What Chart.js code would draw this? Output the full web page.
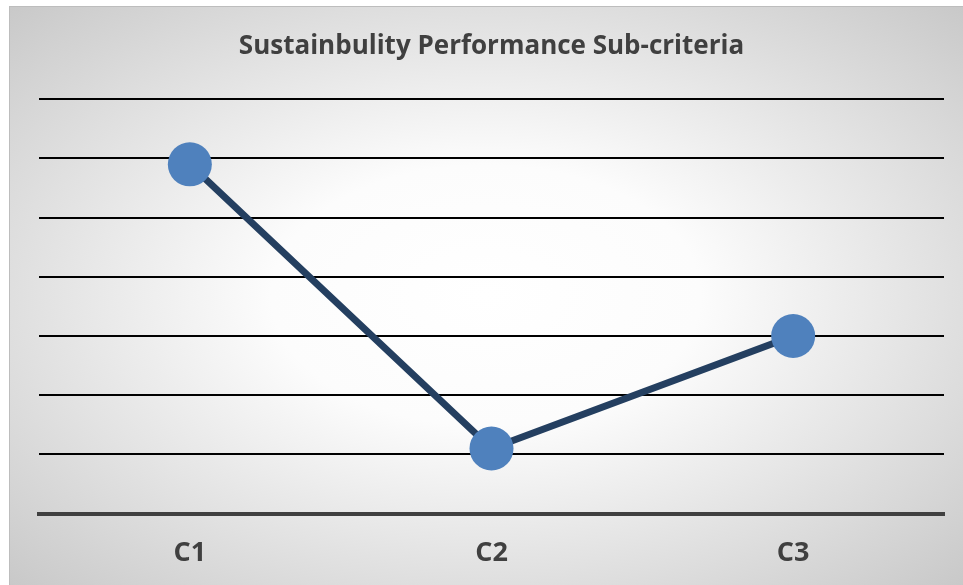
<!DOCTYPE html>
<html>
<head>
<meta charset="utf-8">
<script src="https://cdn.jsdelivr.net/npm/chart.js@4"></script>
<style>
  html, body { margin: 0; padding: 0; background: #fff; }
  #wrap { width: 963px; height: 585px; }
</style>
</head>
<body>
<div id="wrap"><canvas id="perfChart" width="963" height="585"></canvas></div>
<script>
// data
const categories = ["C1", "C2", "C3"];
const scores = [5.9, 1.1, 3.0];
const yMin = 0;
const yMax = 7;

// gray box with a white glow in the middle, like the Excel chart area
const backdrop = {
  id: "backdrop",
  beforeDraw(chart) {
    const ctx = chart.ctx;
    const x0 = 9, y0 = 6, w = chart.width - x0, h = chart.height - y0;
    const cx = x0 + w / 2, cy = y0 + h / 2;
    ctx.save();
    ctx.translate(cx, cy);
    ctx.scale(w / h, 1);
    const g = ctx.createRadialGradient(0, 0, 0, 0, 0, h * 0.75);
    g.addColorStop(0, "#ffffff");
    g.addColorStop(0.3, "#fcfcfc");
    g.addColorStop(1, "#c4c4c4");
    ctx.fillStyle = g;
    ctx.fillRect(-w / 2 * h / w, -h / 2, h, h);
    ctx.restore();
    ctx.save();
    ctx.strokeStyle = "#bdbdbd";
    ctx.lineWidth = 1;
    ctx.strokeRect(x0 + 0.5, y0 + 0.5, w, h);
    ctx.restore();
  }
};

new Chart(document.getElementById("perfChart"), {
  type: "line",
  data: {
    labels: categories,
    datasets: [{
      label: "Score",
      data: scores,
      borderColor: "#243f60",
      borderWidth: 7,
      pointRadius: 22,
      pointHoverRadius: 22,
      pointBackgroundColor: "#4f81bd",
      pointBorderColor: "#4f81bd",
      pointBorderWidth: 0,
      tension: 0,
      clip: false
    }]
  },
  options: {
    responsive: false,
    animation: false,
    events: [],
    // the x axis keeps room for its tick padding twice, hence the negative bottom
    layout: { autoPadding: false, padding: { left: 39, right: 19, top: 0, bottom: -9 } },
    plugins: {
      legend: { display: false },
      tooltip: { enabled: false },
      title: {
        display: true,
        text: "Sustainbulity Performance Sub-criteria",
        color: "#404040",
        font: { family: "Open Sans", size: 26, weight: "bold" },
        padding: { top: 31, bottom: 37 }
      }
    },
    scales: {
      x: {
        offset: true,
        grid: { display: false, drawTicks: false },
        border: { display: true, color: "#404040", width: 4 },
        ticks: {
          color: "#404040",
          padding: 24,
          font: { family: "Open Sans", size: 27, weight: "bold" }
        }
      },
      y: {
        min: yMin,
        max: yMax,
        ticks: { display: false, stepSize: 1 },
        grid: { color: "#000000", lineWidth: 2, drawTicks: false },
        border: { display: false }
      }
    }
  },
  plugins: [backdrop]
});
</script>
</body>
</html>
